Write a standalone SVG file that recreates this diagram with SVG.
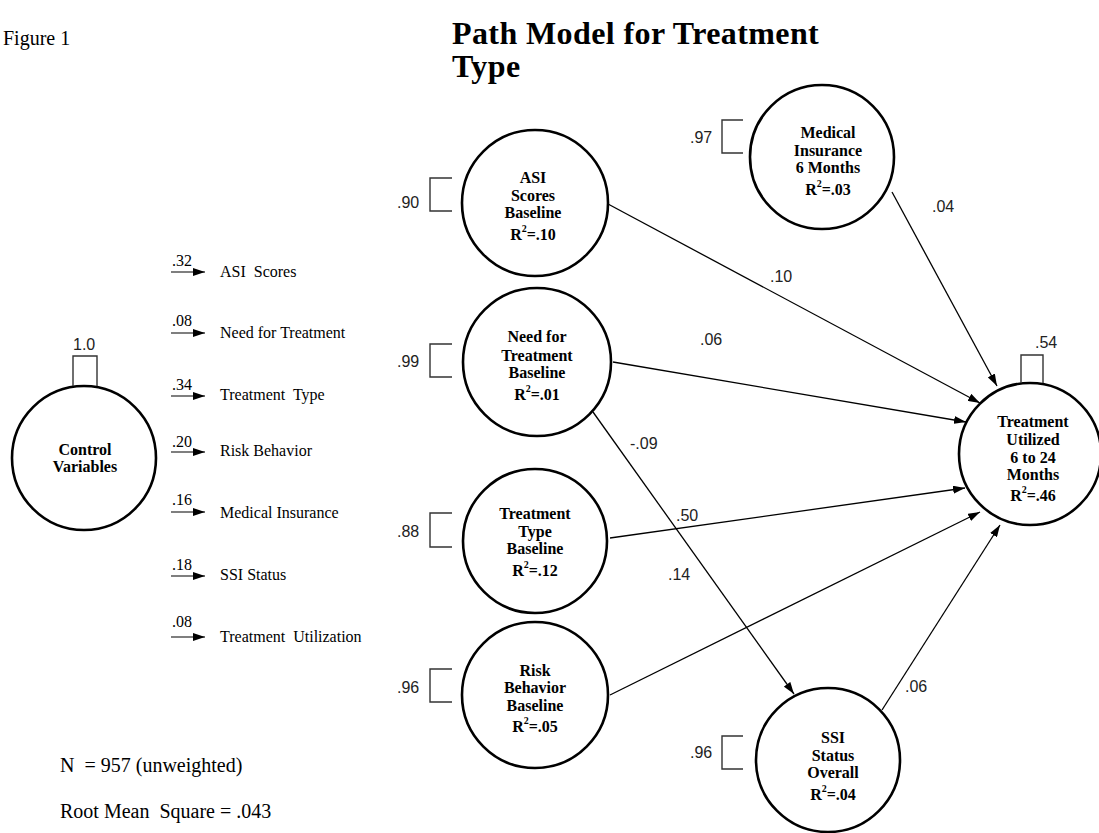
<svg xmlns="http://www.w3.org/2000/svg" width="1099" height="833" viewBox="0 0 1099 833">
<defs>
<marker id="ah" viewBox="0 0 12 8" refX="12" refY="4" markerWidth="12" markerHeight="8" markerUnits="userSpaceOnUse" orient="auto">
<path d="M0,0 L12,4 L0,8 Z" fill="#000"/>
</marker>
</defs>
<style>
.node{fill:#fff;stroke:#000;stroke-width:2.6}
.nt{font-family:"Liberation Serif","Times New Roman",serif;font-weight:bold;font-size:16px;text-anchor:middle;fill:#000}
.sup{font-size:10px}
.br{fill:none;stroke:#333;stroke-width:1.4}
.num{font-family:"Liberation Sans",Arial,sans-serif;font-size:16px;fill:#222}
.edge{stroke:#000;stroke-width:1.3;fill:none;marker-end:url(#ah)}
.arr{stroke:#000;stroke-width:1.2;marker-end:url(#ah)}
.lst{font-family:"Liberation Serif","Times New Roman",serif;font-size:16px;fill:#000}
.lbl{font-family:"Liberation Serif","Times New Roman",serif;font-size:16px;fill:#000}
.body{font-family:"Liberation Serif","Times New Roman",serif;font-size:20px;fill:#000}
.title{font-family:"Liberation Serif","Times New Roman",serif;font-size:32px;font-weight:bold;fill:#000;letter-spacing:0.4px}
</style>
<rect width="1099" height="833" fill="#fff"/>

<text class="body" x="3" y="45">Figure 1</text>
<text class="title" x="452" y="44">Path Model for Treatment</text>
<text class="title" x="452" y="77">Type</text>

<g id="connectors">
<line class="edge" x1="608" y1="204" x2="980" y2="403"/>
<line class="edge" x1="892" y1="192" x2="997" y2="386"/>
<line class="edge" x1="613" y1="362" x2="966" y2="422"/>
<line class="edge" x1="593" y1="412" x2="794" y2="694"/>
<line class="edge" x1="610" y1="538" x2="965" y2="488"/>
<line class="edge" x1="610" y1="695" x2="980" y2="512"/>
<line class="edge" x1="882" y1="710" x2="1000" y2="525"/>
<text class="num" x="770" y="282">.10</text>
<text class="num" x="932" y="212">.04</text>
<text class="num" x="700" y="345">.06</text>
<text class="num" x="630" y="449">-.09</text>
<text class="num" x="676" y="521">.50</text>
<text class="num" x="668" y="580">.14</text>
<text class="num" x="905" y="692">.06</text>
</g>

<g id="control">
<circle class="node" cx="84" cy="458" r="72"/>
<path class="br" d="M73,386 V356 H97 V386"/>
<text class="num" x="73" y="350">1.0</text>
<text class="nt" x="85" y="455">Control</text>
<text class="nt" x="85" y="472">Variables</text>
</g>

<g id="list">
<g><line class="arr" x1="171" y1="272" x2="205" y2="272"/><text class="lbl" x="172" y="266">.32</text><text class="lst" x="220" y="277" xml:space="preserve">ASI  Scores</text></g>
<g><line class="arr" x1="171" y1="333" x2="205" y2="333"/><text class="lbl" x="172" y="326">.08</text><text class="lst" x="220" y="338">Need for Treatment</text></g>
<g><line class="arr" x1="171" y1="396" x2="205" y2="396"/><text class="lbl" x="172" y="390">.34</text><text class="lst" x="220" y="400" xml:space="preserve">Treatment  Type</text></g>
<g><line class="arr" x1="171" y1="452" x2="205" y2="452"/><text class="lbl" x="172" y="447">.20</text><text class="lst" x="220" y="456">Risk Behavior</text></g>
<g><line class="arr" x1="171" y1="512" x2="205" y2="512"/><text class="lbl" x="172" y="505">.16</text><text class="lst" x="220" y="518">Medical Insurance</text></g>
<g><line class="arr" x1="171" y1="576" x2="205" y2="576"/><text class="lbl" x="172" y="570">.18</text><text class="lst" x="220" y="580">SSI Status</text></g>
<g><line class="arr" x1="171" y1="637" x2="205" y2="637"/><text class="lbl" x="172" y="627">.08</text><text class="lst" x="220" y="642" xml:space="preserve">Treatment  Utilization</text></g>
</g>

<g id="asi">
<circle class="node" cx="535" cy="203" r="73"/>
<path class="br" d="M452,178 H430 V211 H452"/>
<text class="num" x="397" y="208">.90</text>
<text class="nt" x="533" y="183">ASI</text>
<text class="nt" x="533" y="201">Scores</text>
<text class="nt" x="533" y="218">Baseline</text>
<text class="nt" x="533" y="240">R<tspan class="sup" dy="-8">2</tspan><tspan dy="8">=.10</tspan></text>
</g>

<g id="need">
<circle class="node" cx="537" cy="362" r="74"/>
<path class="br" d="M452,344 H430 V377 H452"/>
<text class="num" x="397" y="367">.99</text>
<text class="nt" x="537" y="342">Need for</text>
<text class="nt" x="537" y="361">Treatment</text>
<text class="nt" x="537" y="378">Baseline</text>
<text class="nt" x="537" y="400">R<tspan class="sup" dy="-8">2</tspan><tspan dy="8">=.01</tspan></text>
</g>

<g id="ttype">
<circle class="node" cx="535" cy="541" r="72"/>
<path class="br" d="M452,513 H430 V547 H452"/>
<text class="num" x="397" y="537">.88</text>
<text class="nt" x="535" y="519">Treatment</text>
<text class="nt" x="535" y="537">Type</text>
<text class="nt" x="535" y="554">Baseline</text>
<text class="nt" x="535" y="576">R<tspan class="sup" dy="-8">2</tspan><tspan dy="8">=.12</tspan></text>
</g>

<g id="risk">
<circle class="node" cx="535" cy="695" r="73"/>
<path class="br" d="M452,669 H430 V702 H452"/>
<text class="num" x="397" y="693">.96</text>
<text class="nt" x="535" y="676">Risk</text>
<text class="nt" x="535" y="693">Behavior</text>
<text class="nt" x="535" y="711">Baseline</text>
<text class="nt" x="535" y="732">R<tspan class="sup" dy="-8">2</tspan><tspan dy="8">=.05</tspan></text>
</g>

<g id="medical">
<circle class="node" cx="822" cy="157" r="72"/>
<path class="br" d="M743,120 H722 V153 H743"/>
<text class="num" x="690" y="143">.97</text>
<text class="nt" x="828" y="138">Medical</text>
<text class="nt" x="828" y="156">Insurance</text>
<text class="nt" x="828" y="173">6 Months</text>
<text class="nt" x="828" y="195">R<tspan class="sup" dy="-8">2</tspan><tspan dy="8">=.03</tspan></text>
</g>

<g id="ssi">
<circle class="node" cx="828" cy="760" r="72"/>
<path class="br" d="M743,736 H722 V769 H743"/>
<text class="num" x="690" y="758">.96</text>
<text class="nt" x="833" y="743">SSI</text>
<text class="nt" x="833" y="761">Status</text>
<text class="nt" x="833" y="778">Overall</text>
<text class="nt" x="833" y="800">R<tspan class="sup" dy="-8">2</tspan><tspan dy="8">=.04</tspan></text>
</g>

<g id="util">
<circle class="node" cx="1030" cy="454" r="71"/>
<path class="br" d="M1021,383 V355 H1043 V383"/>
<text class="num" x="1035" y="348">.54</text>
<text class="nt" x="1033" y="427">Treatment</text>
<text class="nt" x="1033" y="445">Utilized</text>
<text class="nt" x="1033" y="463">6 to 24</text>
<text class="nt" x="1033" y="480">Months</text>
<text class="nt" x="1033" y="501">R<tspan class="sup" dy="-8">2</tspan><tspan dy="8">=.46</tspan></text>
</g>

<text class="body" x="60" y="772" xml:space="preserve">N  = 957 (unweighted)</text>
<text class="body" x="60" y="818" xml:space="preserve">Root Mean  Square = .043</text>
</svg>
